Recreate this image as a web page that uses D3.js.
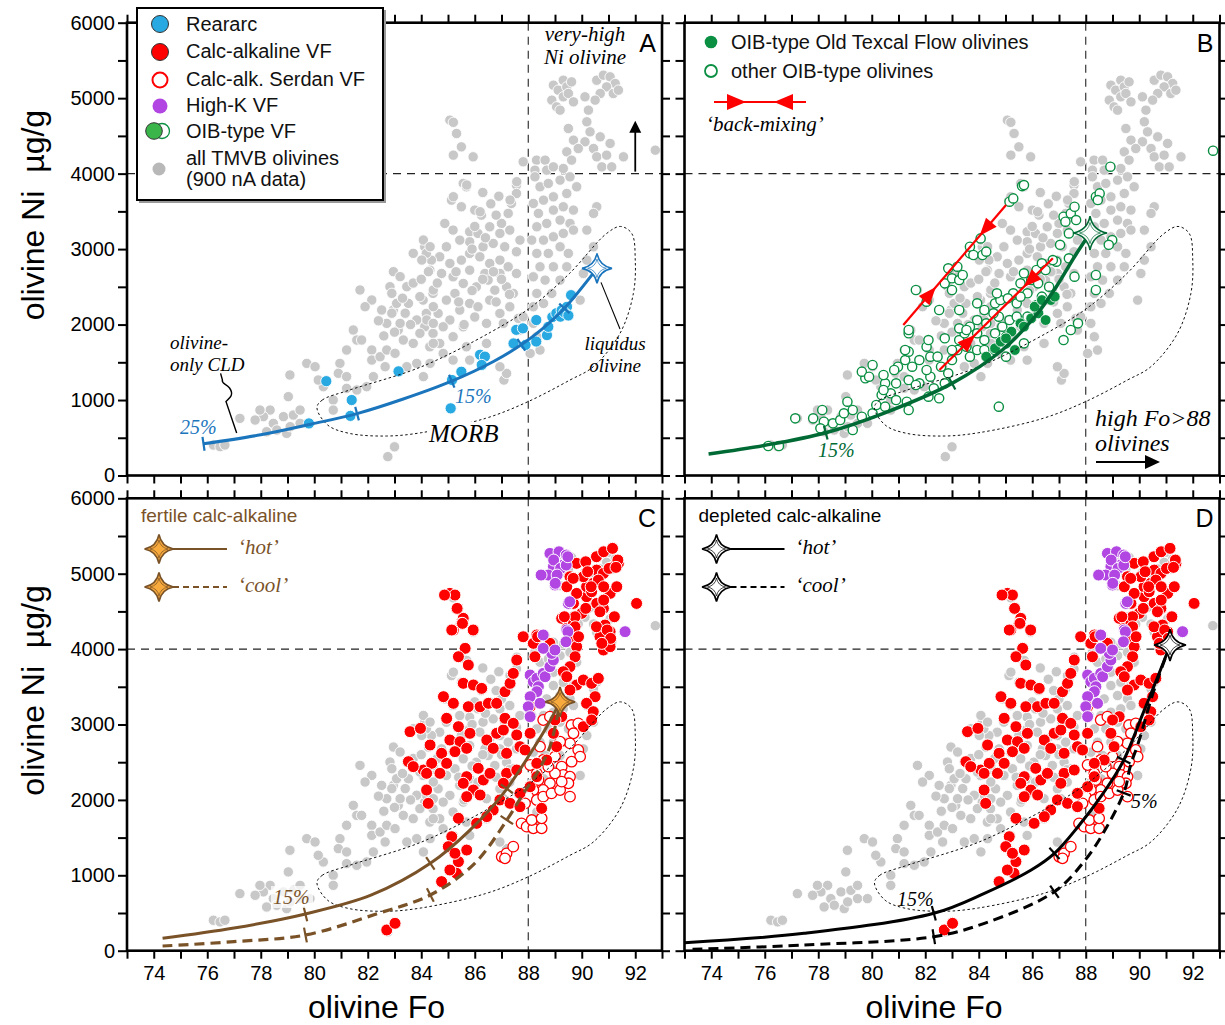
<!DOCTYPE html>
<html>
<head>
<meta charset="utf-8">
<script src="https://cdn.jsdelivr.net/npm/d3@7"></script>
<style>
body { margin: 0; background: #fff; }
svg { display: block; }
text { font-family: "Liberation Sans", Arial, sans-serif; }
.it { font-family: "Liberation Serif", "Times New Roman", serif; font-style: italic; }
</style>
</head>
<body>
<svg id="fig" width="1225" height="1025"></svg>
<script>
// ---- data: [olivine Fo, Ni ug/g] ----
var tmvbAll = [
 [88.94,5172],[89.12,5106],[89.31,5238],[89.44,5150],[89.62,5216],[88.88,4974],[89.06,4885],[89.31,5018],[89.5,5062],[89.69,4951],[89.19,4841],
 [90.56,5238],[90.81,5305],[91.06,5283],[91.25,5194],[90.93,5150],[90.69,5062],[91.18,5062],[91.37,5106],[90.5,4974],
 [90.12,5018],[90.25,4841],[90.19,4687],[90.31,4554],[90.12,4422],[90.44,4333],[90.69,4488],[90.56,4223],[90.75,4090],[91.06,4400],[91.12,4090],[90.93,4245],
 [89.5,4598],[89.69,4444],[89.87,4333],[89.44,4289],[89.62,4179],[89.31,4068],
 [91.56,4223],[92.75,4311],[87.81,4157],[88.31,4179],[88.63,4179],[88.25,4046],[88.69,4046],[88.94,4090],
 [85.07,4709],[85.2,4680],[85.32,4532],[85.5,4355],[85.2,4245],[85.94,4223],
 [85.57,3870],[85.69,3826],[85.13,3649],[85.5,3561],[86.0,3517],[86.25,3450],[84.88,3340],[85.19,3252],[85.81,3230],[86.12,3208],[86.56,3296],[87.0,3340],[87.25,3473],[87.37,3605],[87.56,3848],[87.56,3737],[86.94,3208],[87.31,3252],[87.69,3119],[87.56,2965],[87.12,3031],[86.69,3075],[86.31,3031],[85.81,3097],[85.44,3119],[84.94,3031],[84.69,2898],[84.38,2854],[84.13,3031],[84.19,2943],[84.32,2721],[84.76,2677],[85.19,2633],[85.07,2810],[85.5,2854],[85.81,2943],[86.19,2898],[86.56,2810],[86.94,2854],[87.25,2766],[87.56,2677],[86.94,2677],[86.38,2677],[85.81,2721],[85.57,2545],[86.06,2500],[86.5,2589],[86.75,2456],[87.19,2500],[87.44,2413],[85.26,2413],[84.94,2324],[84.44,2413],[84.07,2324],[84.19,2148],[84.63,2148],[85.07,2060],[85.44,2192],[85.81,2280],[86.12,2236],[86.56,2324],[86.94,2148],[87.31,2236],[84.82,1971],[84.44,1883],[85.19,1839],[84.13,1971],[84.69,1750],[85.57,1971],[86.44,2016],[87.07,2016],[87.63,2082],
 [88.25,3958],[88.44,3826],[88.75,3870],[89.19,3914],[89.56,3958],[89.81,3826],[89.44,3737],[88.94,3693],[88.57,3649],[88.19,3605],[88.38,3473],[88.94,3517],[89.31,3561],[89.69,3517],[89.19,3384],[89.56,3340],[88.69,3340],[88.32,3296],[88.13,3119],[88.57,3119],[88.94,3163],[89.31,3208],[89.69,3252],[90.19,3252],[90.56,3561],[90.44,3473],[88.32,2943],[88.75,2943],[89.19,3031],[89.5,2943],[88.44,2766],[88.94,2766],[89.44,2766],[88.19,2633],[88.63,2589],[89.19,2589],[88.32,2413],[88.88,2413],[88.19,2236],[88.57,2280],[88.19,2016],[88.32,1839],[88.44,1662],[88.07,1618],[87.69,1927],[87.81,2104],[87.09,1265],[87.19,1353],[86.94,1441],[89.94,2324],[90.06,2677],[90.44,3031],[90.19,2854],
 [84.32,1706],[84.82,1618],[85.19,1529],[85.69,1706],[86.44,1750],[85.81,1529],
 [84.08,3120],[83.7,2944],[84.02,2855],[84.33,3032],[82.96,2701],[83.21,2635],[82.83,2502],[83.46,2502],[84.27,2701],[81.71,2458],[82.15,2325],[82.52,2193],[81.9,2237],[81.46,1928],[81.59,1795],[81.21,1663],[80.96,1486],[80.9,1354],[81.21,1310],[81.77,1795],[82.15,1663],[82.15,1530],[82.46,1574],[82.71,1663],[83.02,1619],[83.14,1928],[83.33,1795],[83.7,1751],[83.95,1884],[84.2,2061],[84.45,2237],[84.45,2016],[83.83,2061],[83.52,2281],[83.21,2016],[82.71,2016],[82.65,1442],[82.21,1310],[81.96,1177],[81.59,1133],[81.21,1155],[80.71,1000],[80.71,867],[80.34,1177],[79.72,1486],[80.03,1442],[80.15,1265],[79.09,1332],[79.03,1045],[78.35,867],[78.1,780],[78.47,691],[78.85,780],[79.22,801],[79.47,867],[79.47,691],[79.84,691],[78.97,558],[78.6,603],[78.22,580],[77.79,735],[77.22,757],[79.1,647],[76.23,404],[76.48,382],[76.66,404],[82.75,250],[83.0,380],[84.45,1751],[84.33,1486],[83.83,1486],[83.46,1442],[84.08,1310],[84.45,2458],[83.95,2370],[82.96,2193],[82.9,2414],[83.08,2281],[77.97,867],
 [87.57,3893],[87.32,3650],[85.2,3694],[85.7,3849],[86.2,3495],
 [82.4,2050],[82.9,2150],[83.3,2350],[83.7,2550],[84.0,2600],[83.4,2150],[82.6,1850],[83.0,1900],[83.6,2000],[86.6,3600],[86.9,3700],[86.3,3750],[86.0,3300],[86.8,3450],
 [85.4,2300],[85.9,2450],[86.3,2600],[86.7,2700],[87.0,2600],[85.6,2000],[86.0,2100],[86.8,2300],[87.3,2400],[84.6,2550],[85.3,2700],[85.9,3000],[86.4,3150]
];

var rearArc = [
 [79.8,690],[80.45,1250],[81.4,1000],[81.35,790],[83.15,1380],[85.1,890],[85.15,1265],[85.5,1375],[86.2,1600],[86.38,1575],[86.26,1465],
 [87.45,1750],[87.55,1930],[87.8,1950],[87.9,1730],[88.3,2060],[88.3,1775],[88.7,1860],[88.75,1970],[88.9,2100],[89.05,2150],[89.2,2105],
 [89.25,2190],[89.45,2235],[89.6,2390],[89.35,2160],[89.5,2120]
];

var calcAlk = [
 [85.07,4739],[85.26,4717],[85.35,4540],[85.57,4408],[85.51,4341],[85.2,4253],[85.95,4253],[85.64,4010],[85.39,3899],[85.76,3789],[85.57,3546],[85.95,3524],[86.26,3479],[84.83,3369],[85.2,3281],[85.76,3236],[86.2,3236],[86.51,3281],[86.82,3281],[87.13,3435],[87.32,3546],[87.44,3678],[87.57,3855],[87.82,4164],
 [84.95,3082],[85.39,2971],[85.82,2883],[85.07,2794],[85.45,2772],[84.76,2618],[84.33,2728],[83.58,2905],[83.97,2949],[83.52,2507],[84.08,2396],[84.39,2485],[84.7,2352],[84.2,2131],[84.26,1954],[84.95,2485],[85.26,2640],[85.7,2684],[85.7,2308],[85.57,2220],[85.95,2131],[85.7,2043],[86.2,2065],[86.32,2264],[86.57,2352],[86.13,2419],[86.45,2794],[86.82,2883],[86.69,2684],[87.07,2927],[87.13,3082],[87.44,3015],[87.57,2861],[87.69,2706],[87.19,2618],[87.19,2352],[87.07,2220],[87.57,2396],[86.94,1999],[87.32,1954],[86.69,1866],[86.45,1778],[86.07,1689],[85.39,1756],[85.14,1512],[85.01,1380],[85.7,1335],[85.39,1181],[85.32,1026],[84.76,916],
 [88.07,2883],[87.88,2662],[88.07,3236],[88.5,1888],[88.32,4187],[88.19,4076],[88.25,3899],[88.81,4076],[89.25,4408],[89.44,4275],[89.69,4341],[89.56,4120],[89.81,4032],[89.75,3899],[89.56,3767],[89.31,3700],[89.44,3634],[89.81,3524],[90.06,3590],[90.37,3546],[90.62,3612],[90.5,3369],[90.18,3281],[90.43,3170],[90.06,2971],[90.37,3060],[89.56,3457],[89.25,3104],[89.0,3060],[88.94,2883],[89.06,2706],[88.69,2529],[88.32,2485],[88.32,2308],[88.07,2175],[87.69,2087],[87.69,1910],
 [89.69,4606],[90.0,4474],[90.18,4695],[90.56,4606],[90.81,4540],[91.06,4739],[91.31,4827],[90.87,4319],[90.68,4164],[91.06,4231],[90.93,4076],[90.81,3988],[91.06,4032],[90.18,4827],[90.43,4872],[90.06,4960],[90.56,5048],[90.81,5004],[91.18,5093],[91.37,5137],[89.81,5137],[89.56,4960],[89.81,4739],[89.44,4827],[90.37,4761],[92.05,4606],[82.71,275],[83.02,363],[85.26,1292],[85.07,1070],[84.2,2352],[83.7,2441],
 [90.55,5225],[90.82,5291],[91.15,5336],[91.35,5181],[91.02,5070],[91.28,5084],[90.15,5158],[90.22,5026],[89.68,4938],[90.62,4915],[90.82,4827],[90.35,4827],[90.82,4650],[90.68,4495],[90.15,4540],[91.22,4429],[90.55,4296],[90.95,4253],[91.08,4142],[90.75,4076],[89.75,4429],[89.75,4296],[89.88,4164],[89.35,4429],[84.87,4717],[85.34,4540],[85.54,4341],[85.14,4253],[85.94,4253],[87.81,4164],[88.35,4164]
];

var serdan = [
 [88.56,3060],[88.81,3104],[89.62,2993],[89.87,3015],[89.69,2883],[89.56,2750],[89.19,2772],[89.87,2662],[89.94,2574],[89.62,2507],[89.25,2441],[89.31,2330],[89.56,2308],[89.5,2220],[89.0,2352],[88.81,2220],[88.56,2131],[88.32,2352],[88.19,2131],[88.0,2043],[88.32,1999],[88.56,2043],[88.87,2087],[89.19,2131],[89.56,2043],[89.25,2242],[88.75,2441],[88.56,2529],[89.0,2574],[88.44,2706],[88.07,2463],[88.38,2264],
 [87.75,1689],[87.94,1645],[88.19,1623],[88.5,1623],[88.13,1733],[88.5,1756],[87.01,1247],[87.19,1291],[87.44,1380],[87.13,1225],[87.88,1954]
];

var highK = [
 [88.07,3656],[88.19,3567],[88.32,3612],[88.56,3678],[88.63,3634],[88.38,3501],[88.32,3435],[88.07,3369],[88.0,3236],[88.07,3104],[88.44,3281],[88.81,3767],[88.94,3855],[88.88,3943],[88.56,4010],[88.56,4187],[89.0,3988],[89.44,4253],[89.5,4606],[91.62,4231],
 [88.94,5093],[89.06,4982],[89.0,4850],[88.75,4982],[89.31,5115],[88.81,5269],[89.15,5291],[89.42,5247],[88.95,5181],[89.21,5070],[89.42,5114],[89.08,4982],[89.01,4872],[89.48,5225],[88.48,4982],[89.55,4628],[89.48,4230],[89.41,4097]
];

var oibOther = [
 [76.13,391],[76.53,391],[77.14,757],[77.81,757],[78.15,868],[78.21,713],[78.08,625],[78.55,691],[78.82,735],[78.96,824],[79.29,868],[79.29,603],[79.63,779],[80.03,824],[80.17,934],[80.5,912],[80.37,1067],[80.71,1089],[80.5,1221],[80.91,1221],[81.38,1265],[80.98,1442],[81.25,1530],[81.38,1641],[81.51,1442],[81.78,1530],[82.05,1707],[82.19,1575],[81.78,1221],[82.19,1309],[82.32,1155],[82.12,1045],[82.52,1023],[82.73,1221],[82.86,1354],[82.59,1442],[83.0,1530],[83.2,1663],[83.0,1663],[83.27,1795],[83.47,1884],[83.27,1950],[83.67,1972],[83.94,2060],[84.28,2016],[83.94,1884],[84.21,1795],[83.94,1663],[83.67,1575],[83.54,1707],[84.61,1884],[84.88,1972],[84.75,2105],[85.15,2060],[85.02,1840],[85.02,1575],[84.61,2281],[84.81,2325],[84.55,2149],[85.42,2281],[85.29,2414],[85.56,2546],[85.82,2414],[85.96,2590],[85.69,2679],[86.16,2723],[86.36,2811],[86.16,2259],[86.36,2370],[86.63,2502],[86.9,2834],[87.37,2878],[87.58,2635],[88.38,2657],[88.38,2458],[87.71,2016],[87.44,1928],[87.17,1795],[84.75,912],
 [79.09,978],[79.76,1288],[79.63,1376],[80.03,1464],[79.9,1309],[80.84,1398],[80.44,1332],[80.44,1133],[80.91,1000],[81.31,978],[81.38,868],[81.65,1199],[82.05,1398],[82.46,1575],[81.25,1663],[81.38,1884],[81.38,1928],[82.12,1795],[82.73,1818],[83.27,2193],[83.54,1928],[84.21,2193],[83.94,2281],[84.68,2414],[85.09,2348],[85.56,2370],[85.82,2105],[85.42,2105],[85.02,1751],[84.61,1663],[84.21,1663],[85.69,1751],[86.77,2855],[86.22,2546],[86.5,2723],
 [81.65,2458],[82.05,2303],[82.52,2193],[82.73,2546],[83.0,2458],[83.0,2613],[83.27,2590],[82.86,2745],[83.2,2767],[83.4,2657],[83.67,2944],
 [85.15,3628],[85.29,3672],[85.62,3835],[85.69,3849],[88.92,4092],[92.76,4304],[87.17,3429],[87.44,3473],[87.58,3561],[87.24,3363],[87.64,3385],[87.37,3208],[88.38,3694],[88.52,3738],[88.45,3650],[88.99,3120],[88.86,3057],[87.04,3057],
 [83.67,3032],[84.07,3142],[83.8,2922],[84.14,2922],[84.28,2966]
];

var oibTexcal = [
 [84.28,1575],[84.61,1685],[84.82,1773],[85.22,1906],[85.56,2016],[85.69,1972],[85.96,2082],[86.23,2149],[86.09,2237],[86.5,2060],[86.36,2325],[86.7,2325],[86.84,2370],[85.02,1818],[85.35,1663]
];

// model liquid lines of descent (knots) and 5% crystallisation ticks
var cldRearArc = [[75.86,420],[78,540],[79.87,680],[81.6,820],[83.3,1010],[85.14,1250],[86.7,1510],[87.75,1735],[88.55,1950],[89.35,2215],[90.57,2745]];
var cldRearArcTicks = [75.86, 81.6, 85.14, 87.74, 89.35];
var cldOib = [[73.9,285],[76,400],[78.28,567],[80.44,824],[83.0,1221],[84.88,1663],[86.1,2104],[86.9,2502],[87.58,2899],[88.16,3213]];
var cldOibTicks = [78.28, 83.0];
var fertileHot = [[74.33,164],[77,300],[79.67,487],[82.14,739],[84.34,1159],[85.82,1600],[87.07,2087],[88.07,2612],[88.69,2970],[89.19,3300]];
var fertileCool = [[74.33,62],[77,120],[79.67,208],[82.4,496],[84.34,739],[86.0,1159],[87.2,1733],[87.82,2087],[88.32,2352],[88.81,2705],[89.19,3300]];
var fertileTicks = [79.67, 84.34, 87.2];
var depletedHot = [[73.0,106],[77.47,230],[82.32,496],[84.21,761],[85.96,1070],[86.83,1291],[87.71,1644],[88.65,2087],[89.39,2506],[90.14,3148],[90.94,3855],[91.15,4054]];
var depletedCool = [[73.3,18],[77.47,75],[82.32,186],[84.21,363],[86.83,783],[87.98,1203],[88.79,1644],[89.46,2131],[89.66,2440],[90.0,2794],[90.5,3400],[91.15,4054]];
var depletedTicks = [82.32, 86.83, 89.42];

var morbField = [[80.1,900],[80.3,1000],[81.3,1130],[84.0,1440],[86.6,1900],[88.1,2230],[89.55,2680],[90.93,3207],[91.45,3300],[91.87,3207],[92.0,2854],[91.93,2413],[91.43,1883],[90.43,1441],[89.56,1265],[88.0,980],[86.4,757],[84.0,567],[82.7,523],[81.3,559],[80.5,669]];

// back-mixing arrows in B: [start, end]
var backMixing = [[[81.18,1994],[85.02,3584]], [[82.53,1398],[86.77,2878]]];

var foTicks = d3.range(73, 94, 1);
var foLabels = [74, 76, 78, 80, 82, 84, 86, 88, 90, 92];
var niTicks = d3.range(0, 6001, 500);
var niLabels = [0, 1000, 2000, 3000, 4000, 5000, 6000];

// ---- layout ----
var svg = d3.select("#fig");
svg.append("rect").attr("width", 1225).attr("height", 1025).attr("fill", "#fff");
var defs = svg.append("defs");

var panels = [
  {id: "A", left: 127, right: 662, top: 22.7, bottom: 475.5, yLab: true, xLab: false},
  {id: "B", left: 684.5, right: 1219.5, top: 22.7, bottom: 475.5, yLab: false, xLab: false},
  {id: "C", left: 127, right: 662, top: 498.3, bottom: 950.7, yLab: true, xLab: true},
  {id: "D", left: 684.5, right: 1219.5, top: 498.3, bottom: 950.7, yLab: false, xLab: true}
];
panels.forEach(function(p) {
  p.x = d3.scaleLinear().domain([73, 93]).range([p.left, p.right]);
  p.y = d3.scaleLinear().domain([0, 6000]).range([p.bottom, p.top]);
  defs.append("clipPath").attr("id", "clip" + p.id).append("rect")
    .attr("x", p.left).attr("y", p.top).attr("width", p.right - p.left).attr("height", p.bottom - p.top);
  p.g = svg.append("g").attr("id", "panel" + p.id);
  p.plot = p.g.append("g").attr("clip-path", "url(#clip" + p.id + ")");
});
var P = {A: panels[0], B: panels[1], C: panels[2], D: panels[3]};

// 4-pointed concave star
function starPath(r) {
  var k = r * 0.16;
  return "M0," + (-r) + "Q" + k + "," + (-k) + " " + r + ",0" +
    "Q" + k + "," + k + " 0," + r + "Q" + (-k) + "," + k + " " + (-r) + ",0" +
    "Q" + (-k) + "," + (-k) + " 0," + (-r) + "Z";
}
function drawStar(g, cx, cy, r, fill, stroke) {
  var s = g.append("g").attr("transform", "translate(" + cx + "," + cy + ")");
  s.append("path").attr("d", starPath(r)).attr("fill", fill).attr("stroke", stroke).attr("stroke-width", 1.6);
  s.append("path").attr("d", starPath(r * 0.62)).attr("fill", "none").attr("stroke", stroke).attr("stroke-width", 0.9).attr("opacity", 0.8);
}

function dots(p, data, r, fill, stroke, sw) {
  p.plot.append("g").selectAll("circle").data(data).enter().append("circle")
    .attr("cx", function(d) { return p.x(d[0]); })
    .attr("cy", function(d) { return p.y(d[1]); })
    .attr("r", r).attr("fill", fill).attr("stroke", stroke).attr("stroke-width", sw);
}

function curve(p, data, color, width, dash) {
  var line = d3.line().x(function(d) { return p.x(d[0]); }).y(function(d) { return p.y(d[1]); })
    .curve(d3.curveCatmullRom.alpha(0.5));
  return p.plot.append("path").datum(data).attr("d", line).attr("fill", "none")
    .attr("stroke", color).attr("stroke-width", width).attr("stroke-dasharray", dash || null)
    .attr("stroke-linecap", "butt");
}

// short crossing tick on a curve at a given Fo
function crossTicks(p, path, fos, color, len) {
  var node = path.node(), L = node.getTotalLength();
  fos.forEach(function(fo) {
    var px = p.x(fo), lo = 0, hi = L;
    for (var i = 0; i < 40; i++) {
      var mid = (lo + hi) / 2;
      if (node.getPointAtLength(mid).x < px) lo = mid; else hi = mid;
    }
    var c = node.getPointAtLength(lo);
    var a = node.getPointAtLength(Math.max(0, lo - 3)), b = node.getPointAtLength(Math.min(L, lo + 3));
    var ang = Math.atan2(b.y - a.y, b.x - a.x);
    var nx = -Math.sin(ang) * len / 2, ny = Math.cos(ang) * len / 2;
    p.plot.append("line").attr("x1", c.x + nx).attr("y1", c.y + ny).attr("x2", c.x - nx).attr("y2", c.y - ny)
      .attr("stroke", color).attr("stroke-width", 2.2);
  });
}

function refLines(p) {
  p.plot.append("line").attr("x1", p.x(88)).attr("x2", p.x(88)).attr("y1", p.top).attr("y2", p.bottom)
    .attr("stroke", "#222").attr("stroke-width", 1.1).attr("stroke-dasharray", "8,6");
  p.plot.append("line").attr("x1", p.left).attr("x2", p.right).attr("y1", p.y(4000)).attr("y2", p.y(4000))
    .attr("stroke", "#222").attr("stroke-width", 1.1).attr("stroke-dasharray", "8,6");
}

function morb(p) {
  var line = d3.line().x(function(d) { return p.x(d[0]); }).y(function(d) { return p.y(d[1]); })
    .curve(d3.curveCatmullRomClosed.alpha(0.5));
  p.plot.append("path").datum(morbField).attr("d", line).attr("fill", "none")
    .attr("stroke", "#111").attr("stroke-width", 1).attr("stroke-dasharray", "2.5,2.5");
}

var GRAY = "#c8c8c8", BLUE = "#29a9e1", BLUEL = "#1b75bc", RED = "#ff0000", PURPLE = "#b146e2",
    GREEN = "#0a8f43", GREENL = "#006a35", BROWN = "#7a5228", ORANGE = "#f8aa3c";

panels.forEach(function(p) { refLines(p); dots(p, tmvbAll, 5.2, GRAY, "#fff", 0.9); });

// ---- panel A ----
(function() {
  var p = P.A;
  dots(p, rearArc, 5.6, BLUE, "#fff", 0.9);
  morb(p);
  var path = curve(p, cldRearArc, BLUEL, 3);
  crossTicks(p, path, cldRearArcTicks, BLUEL, 14);
  var s = cldRearArc[cldRearArc.length - 1];
  drawStar(p.plot, p.x(s[0]), p.y(s[1]), 15, "#fff", BLUEL);
})();

// ---- panel B ----
(function() {
  var p = P.B;
  dots(p, oibOther, 4.6, "#fff", GREEN, 1.4);
  dots(p, oibTexcal, 5.4, GREEN, "#fff", 0.8);
  morb(p);
  backMixing.forEach(function(seg) {
    var x1 = p.x(seg[0][0]), y1 = p.y(seg[0][1]), x2 = p.x(seg[1][0]), y2 = p.y(seg[1][1]);
    p.plot.append("line").attr("x1", x1).attr("y1", y1).attr("x2", x2).attr("y2", y2)
      .attr("stroke", RED).attr("stroke-width", 2.2);
    var ang = Math.atan2(y2 - y1, x2 - x1) * 180 / Math.PI;
    [[0.26, 0], [0.8, 180]].forEach(function(h) {
      var hx = x1 + (x2 - x1) * h[0], hy = y1 + (y2 - y1) * h[0];
      p.plot.append("path").attr("d", "M9,0L-9,-7L-9,7Z").attr("fill", RED)
        .attr("transform", "translate(" + hx + "," + hy + ") rotate(" + (ang + h[1]) + ")");
    });
  });
  var path = curve(p, cldOib, GREENL, 3.5);
  crossTicks(p, path, cldOibTicks, GREENL, 14);
  var s = cldOib[cldOib.length - 1];
  drawStar(p.plot, p.x(s[0]), p.y(s[1]), 17, "#fff", GREENL);
})();

// ---- panels C and D ----
[P.C, P.D].forEach(function(p) {
  dots(p, serdan, 5.3, "#fff", RED, 1.3);
  dots(p, calcAlk, 6, RED, "#fff", 1);
  dots(p, highK, 6, PURPLE, "#fff", 1);
  morb(p);
});
(function() {
  var p = P.C;
  var a = curve(p, fertileHot, BROWN, 3);
  var b = curve(p, fertileCool, BROWN, 3.2, "10,6");
  crossTicks(p, a, fertileTicks, BROWN, 15);
  crossTicks(p, b, fertileTicks, BROWN, 15);
  var s = fertileHot[fertileHot.length - 1];
  drawStar(p.plot, p.x(s[0]), p.y(s[1]), 15, ORANGE, BROWN);
})();
(function() {
  var p = P.D;
  var a = curve(p, depletedHot, "#000", 3);
  var b = curve(p, depletedCool, "#000", 3, "10,6");
  crossTicks(p, a, depletedTicks, "#000", 15);
  crossTicks(p, b, depletedTicks, "#000", 15);
  var s = depletedHot[depletedHot.length - 1];
  drawStar(p.plot, p.x(s[0]), p.y(s[1]), 16, "#fff", "#000");
})();

// ---- axes and frames ----
panels.forEach(function(p) {
  var g = p.g;
  var left = g.append("g").attr("transform", "translate(" + p.left + ",0)")
    .call(d3.axisLeft(p.y).tickValues(niTicks).tickSize(9).tickPadding(3)
      .tickFormat(function(d) { return p.yLab && niLabels.indexOf(d) >= 0 ? d : ""; }));
  var right = g.append("g").attr("transform", "translate(" + p.right + ",0)")
    .call(d3.axisRight(p.y).tickValues(niTicks).tickSize(8).tickFormat(""));
  var top = g.append("g").attr("transform", "translate(0," + p.top + ")")
    .call(d3.axisTop(p.x).tickValues(foTicks).tickSize(8).tickFormat(""));
  var bottom = g.append("g").attr("transform", "translate(0," + p.bottom + ")")
    .call(d3.axisBottom(p.x).tickValues(foTicks).tickSize(8).tickPadding(7)
      .tickFormat(function(d) { return p.xLab && foLabels.indexOf(d) >= 0 ? d : ""; }));
  [left, right, top, bottom].forEach(function(ax) {
    ax.select(".domain").remove();
    ax.selectAll(".tick line").attr("stroke", "#000").attr("stroke-width", 2);
    ax.selectAll("text").attr("font-size", 20).attr("fill", "#000")
      .style("font-family", "'Liberation Sans', Arial, sans-serif");
  });
  g.append("rect").attr("x", p.left).attr("y", p.top).attr("width", p.right - p.left).attr("height", p.bottom - p.top)
    .attr("fill", "none").attr("stroke", "#000").attr("stroke-width", 2.6);
  g.append("text").attr("x", p.right - 6).attr("y", p.top + 29).attr("text-anchor", "end")
    .attr("font-size", 25).text(p.id);
});

// axis titles
[P.A, P.C].forEach(function(p) {
  svg.append("text").attr("transform", "translate(44," + ((p.top + p.bottom) / 2 - 34) + ") rotate(-90)")
    .attr("text-anchor", "middle").attr("font-size", 32).style("white-space", "pre").text("olivine Ni  \u00b5g/g");
});
[P.C, P.D].forEach(function(p) {
  svg.append("text").attr("x", (p.left + p.right) / 2 - 18).attr("y", 1018)
    .attr("text-anchor", "middle").attr("font-size", 32).text("olivine Fo");
});

// ---- annotations, panel A ----
(function() {
  var p = P.A, g = p.g;
  g.append("text").attr("class", "it").attr("x", 585).attr("y", 41).attr("text-anchor", "middle").attr("font-size", 21).text("very-high");
  g.append("text").attr("class", "it").attr("x", 585).attr("y", 64).attr("text-anchor", "middle").attr("font-size", 21).text("Ni olivine");
  var ax = p.x(92), ay0 = p.y(4000) - 2, ay1 = p.y(4700);
  g.append("line").attr("x1", ax).attr("x2", ax).attr("y1", ay0).attr("y2", ay1 + 10).attr("stroke", "#000").attr("stroke-width", 1.8);
  g.append("path").attr("d", "M" + ax + "," + ay1 + "l-6,12h12z").attr("fill", "#000");

  g.append("text").attr("class", "it").attr("x", 170).attr("y", 349).attr("font-size", 19).text("olivine-");
  g.append("text").attr("class", "it").attr("x", 170).attr("y", 371).attr("font-size", 19).text("only CLD");
  var sx = p.x(77.1), sy = p.y(563);
  g.append("path").attr("d", "M" + sx + "," + sy + "l-10.7,-31.6c4.2,-3.7 8.2,-6.7 3.6,-13.4c-3.4,-4.3 -8.4,-4.3 -7.2,-8.3l-1.8,-6.3")
    .attr("fill", "none").attr("stroke", "#000").attr("stroke-width", 1.4);

  g.append("text").attr("class", "it").attr("x", 180).attr("y", 434).attr("font-size", 20).attr("fill", BLUEL).text("25%");
  g.append("text").attr("class", "it").attr("x", 455).attr("y", 403).attr("font-size", 20).attr("fill", BLUEL).text("15%");
  g.append("rect").attr("x", 427).attr("y", 422).attr("width", 73).attr("height", 24).attr("fill", "#fff");
  g.append("text").attr("class", "it").attr("x", 429).attr("y", 442).attr("font-size", 25).text("MORB");
  g.append("text").attr("class", "it").attr("x", 615).attr("y", 350).attr("text-anchor", "middle").attr("font-size", 19).text("liquidus");
  g.append("text").attr("class", "it").attr("x", 615).attr("y", 372).attr("text-anchor", "middle").attr("font-size", 19).text("olivine");
  var s = cldRearArc[cldRearArc.length - 1];
  g.append("line").attr("x1", p.x(s[0]) + 4).attr("y1", p.y(s[1]) + 14).attr("x2", 620).attr("y2", 329)
    .attr("stroke", "#000").attr("stroke-width", 1.1);

  // legend
  var lg = svg.append("g");
  lg.append("rect").attr("x", 139).attr("y", 10).attr("width", 247).attr("height", 193).attr("fill", "#999");
  lg.append("rect").attr("x", 137).attr("y", 8).attr("width", 246).attr("height", 192).attr("fill", "#fff")
    .attr("stroke", "#000").attr("stroke-width", 2);
  lg.append("circle").attr("cx", 160).attr("cy", 24).attr("r", 8.5).attr("fill", BLUE).attr("stroke", "#333").attr("stroke-width", 1);
  lg.append("circle").attr("cx", 160).attr("cy", 52).attr("r", 8.5).attr("fill", RED).attr("stroke", "#333").attr("stroke-width", 1);
  lg.append("circle").attr("cx", 160).attr("cy", 80).attr("r", 7.5).attr("fill", "#fff").attr("stroke", RED).attr("stroke-width", 2);
  lg.append("circle").attr("cx", 160).attr("cy", 106).attr("r", 7.5).attr("fill", PURPLE);
  lg.append("circle").attr("cx", 162).attr("cy", 131).attr("r", 7.5).attr("fill", "#fff").attr("stroke", GREEN).attr("stroke-width", 1.3);
  lg.append("circle").attr("cx", 154).attr("cy", 131).attr("r", 8.3).attr("fill", "#39b54a").attr("stroke", "#333").attr("stroke-width", 1);
  lg.append("circle").attr("cx", 159).attr("cy", 169).attr("r", 6.5).attr("fill", "#b8b8b8");
  var items = [["Reararc", 31], ["Calc-alkaline VF", 58], ["Calc-alk. Serdan VF", 86], ["High-K VF", 112],
               ["OIB-type VF", 138], ["all TMVB olivines", 165], ["(900 nA data)", 186]];
  items.forEach(function(it) {
    lg.append("text").attr("x", 186).attr("y", it[1]).attr("font-size", 20).attr("fill", "#111").text(it[0]);
  });
})();

// ---- annotations, panel B ----
(function() {
  var p = P.B, g = p.g;
  g.append("circle").attr("cx", 711).attr("cy", 42).attr("r", 6.3).attr("fill", GREEN);
  g.append("circle").attr("cx", 711).attr("cy", 71).attr("r", 6).attr("fill", "#fff").attr("stroke", GREEN).attr("stroke-width", 1.8);
  g.append("text").attr("x", 731).attr("y", 49).attr("font-size", 20).attr("fill", "#111").text("OIB-type Old Texcal Flow olivines");
  g.append("text").attr("x", 731).attr("y", 78).attr("font-size", 20).attr("fill", "#111").text("other OIB-type olivines");
  g.append("line").attr("x1", 714).attr("x2", 806).attr("y1", 102).attr("y2", 102).attr("stroke", RED).attr("stroke-width", 2.2);
  g.append("path").attr("d", "M746,102L727,94V110Z").attr("fill", RED);
  g.append("path").attr("d", "M774,102L793,94V110Z").attr("fill", RED);
  g.append("text").attr("class", "it").attr("x", 706).attr("y", 131).attr("font-size", 21).text("\u2018back-mixing\u2019");
  g.append("text").attr("class", "it").attr("x", 1095).attr("y", 426).attr("font-size", 24).text("high Fo>88");
  g.append("text").attr("class", "it").attr("x", 1095).attr("y", 451).attr("font-size", 24).text("olivines");
  g.append("line").attr("x1", 1096).attr("x2", 1147).attr("y1", 462).attr("y2", 462).attr("stroke", "#000").attr("stroke-width", 2);
  g.append("path").attr("d", "M1160,462L1145,455V469Z").attr("fill", "#000");
  g.append("text").attr("class", "it").attr("x", 818).attr("y", 457).attr("font-size", 20).attr("fill", GREENL).text("15%");
})();

// ---- annotations, panels C and D ----
function modelLegend(p, title, color, fill, stroke) {
  var g = p.g, x0 = p.left + 14;
  g.append("text").attr("x", x0).attr("y", 522).attr("font-size", 19).attr("fill", color).text(title);
  drawStar(g, x0 + 18, 549, 14.5, fill, stroke);
  drawStar(g, x0 + 18, 587, 14.5, fill, stroke);
  g.append("line").attr("x1", x0 + 32).attr("x2", x0 + 86).attr("y1", 549).attr("y2", 549).attr("stroke", color).attr("stroke-width", 2);
  g.append("line").attr("x1", x0 + 32).attr("x2", x0 + 86).attr("y1", 587).attr("y2", 587).attr("stroke", color).attr("stroke-width", 2).attr("stroke-dasharray", "6,4");
  g.append("text").attr("class", "it").attr("x", x0 + 97).attr("y", 554).attr("font-size", 21).attr("fill", color).text("\u2018hot\u2019");
  g.append("text").attr("class", "it").attr("x", x0 + 97).attr("y", 592).attr("font-size", 21).attr("fill", color).text("\u2018cool\u2019");
}
modelLegend(P.C, "fertile calc-alkaline", BROWN, ORANGE, BROWN);
modelLegend(P.D, "depleted calc-alkaline", "#000", "#fff", "#000");
P.C.g.append("rect").attr("x", 271).attr("y", 886).attr("width", 42).attr("height", 22).attr("fill", "#fff").attr("opacity", 0.75);
P.C.g.append("text").attr("class", "it").attr("x", 273).attr("y", 904).attr("font-size", 20).attr("fill", BROWN).text("15%");
P.D.g.append("text").attr("class", "it").attr("x", 897).attr("y", 906).attr("font-size", 20).text("15%");
P.D.g.append("text").attr("class", "it").attr("x", 1131).attr("y", 808).attr("font-size", 20).text("5%");
</script>
</body>
</html>
